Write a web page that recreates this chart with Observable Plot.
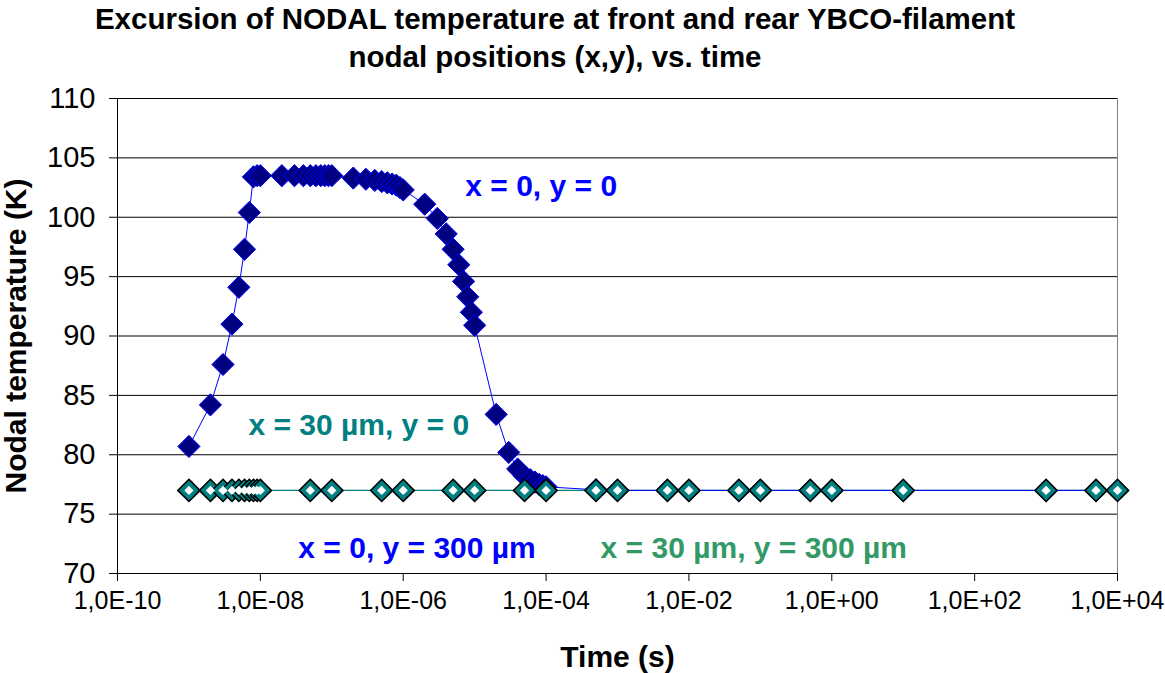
<!DOCTYPE html>
<html>
<head>
<meta charset="utf-8">
<script src="https://cdn.jsdelivr.net/npm/d3@7"></script>
<script src="https://cdn.jsdelivr.net/npm/@observablehq/plot@0.6"></script>
<style>
  html, body { margin: 0; padding: 0; background: #fff; }
  #wrap { width: 1165px; height: 673px; position: relative; font-family: "Liberation Sans", Arial, sans-serif; }
  #title { width: 1110px; height: 80px; text-align: center; font-weight: bold; font-size: 29.5px; line-height: 38px; color: #000; }
  svg { display: block; }
</style>
</head>
<body>
<div id="wrap">
  <div id="title">Excursion of NODAL temperature at front and rear YBCO-filament<br>nodal positions (x,y), vs. time</div>
  <div id="chart"></div>
</div>
<script>
// ---- data ----
const blueTime = [1e-9,2e-9,3e-9,4e-9,5e-9,6e-9,7e-9,8e-9,9e-9,1e-8,
  2e-8,3e-8,4e-8,5e-8,6e-8,7e-8,8e-8,9e-8,1e-7,
  2e-7,3e-7,4e-7,5e-7,6e-7,7e-7,8e-7,9e-7,1e-6,
  2e-6,3e-6,4e-6,5e-6,6e-6,7e-6,8e-6,9e-6,1e-5,
  2e-5,3e-5,4e-5,5e-5,6e-5,7e-5,8e-5,9e-5,1e-4,
  5e-4,1e-3,5e-3,1e-2,5e-2,1e-1,5e-1,1,10,1000,5000,10000];
const blueTemp = [80.7,84.2,87.6,91.0,94.1,97.3,100.4,103.4,103.5,103.5,
  103.5,103.5,103.5,103.5,103.5,103.5,103.5,103.5,103.5,
  103.3,103.2,103.1,103.0,102.9,102.8,102.7,102.5,102.3,
  101.1,99.9,98.6,97.3,96.0,94.6,93.3,92.0,90.9,
  83.4,80.2,78.8,78.2,77.9,77.7,77.5,77.4,77.3,
  77.05,77.0,77.0,77.0,77.0,77.0,77.0,77.0,77.0,77.0,77.0,77.0];
const tealTime = [1e-9,2e-9,3e-9,4e-9,5e-9,6e-9,7e-9,8e-9,9e-9,1e-8,
  5e-8,1e-7,5e-7,1e-6,5e-6,1e-5,5e-5,1e-4,5e-4,1e-3,5e-3,1e-2,5e-2,1e-1,5e-1,1,10,1000,5000,10000];
const tealTemp = [77,77,77,77,77,77,77,77,77,77,
  77,77,77,77,77,77,77,77,77,77,77,77,77,77,77,77,77,77,77,77];

const labelText = ["x = 0, y = 0", "x = 30 µm, y = 0", "x = 0, y = 300 µm", "x = 30 µm, y = 300 µm"];
const labelTime = [7.4e-6, 6.8e-9, 3.4e-8, 5.8e-4];
const labelTemp = [102.6, 82.45, 72.1, 72.1];
const labelColor = ["#0000FF", "#008080", "#0000FF", "#339966"];

const xTicks = [1e-10,1e-8,1e-6,1e-4,1e-2,1e0,1e2,1e4];
const xTickLabels = ["1,0E-10","1,0E-08","1,0E-06","1,0E-04","1,0E-02","1,0E+00","1,0E+02","1,0E+04"];
const yTicks = [70,75,80,85,90,95,100,105,110];
const xTitle = "Time (s)";
const yTitle = "Nodal temperature (K)";

// ---- tables ----
const blue = blueTime.map((t, i) => ({t, T: blueTemp[i]}));
const teal = tealTime.map((t, i) => ({t, T: tealTemp[i]}));
const labels = labelText.map((s, i) => ({s, t: labelTime[i], T: labelTemp[i], c: labelColor[i]}));

const font = '"Liberation Sans", Arial, sans-serif';

const chart = Plot.plot({
  width: 1165,
  height: 593,
  marginLeft: 117,
  marginRight: 48,
  marginTop: 18,
  marginBottom: 100,
  style: {fontFamily: font, background: "#fff", color: "#000"},
  x: {type: "log", domain: [1e-10, 1e4]},
  y: {domain: [70, 110]},
  marks: [
    Plot.frame({stroke: "#808080"}),
    Plot.ruleY(yTicks, {stroke: "#000", strokeWidth: 1}),
    Plot.ruleX([1e-10], {stroke: "#000"}),
    Plot.ruleY([70], {stroke: "#000"}),
    Plot.axisX({ticks: xTicks, tickFormat: (d) => xTickLabels[xTicks.indexOf(d)], tickSize: 8, tickPadding: 10, fontSize: 25, label: null, stroke: "#000"}),
    Plot.axisY({ticks: yTicks, tickSize: 8, tickPadding: 14, fontSize: 29, label: null, stroke: "#000"}),
    Plot.text([yTitle], {frameAnchor: "left", rotate: -90, dx: -101, textAnchor: "middle", lineAnchor: "middle", fontSize: 30, fontWeight: "bold", fill: "#000"}),
    Plot.text([xTitle], {frameAnchor: "bottom", dy: 84, textAnchor: "middle", lineAnchor: "middle", fontSize: 30, fontWeight: "bold", fill: "#000"}),
    Plot.line(teal, {x: "t", y: "T", stroke: "#008080", strokeWidth: 1.2}),
    Plot.line(blue, {x: "t", y: "T", stroke: "#0000FF", strokeWidth: 1}),
    Plot.dot(blue, {x: "t", y: "T", symbol: "diamond2", r: 10, fill: "#000080", stroke: "#0000FF", strokeWidth: 1}),
    Plot.dot(teal, {x: "t", y: "T", symbol: "diamond2", r: 10, fill: "#008080", stroke: "#000", strokeWidth: 1.6}),
    Plot.dot(teal, {x: "t", y: "T", symbol: "diamond2", r: 4.2, fill: "#fff", stroke: "none"}),
    Plot.text(labels, {x: "t", y: "T", text: "s", fill: "c", textAnchor: "start", lineAnchor: "middle", fontSize: 30, fontWeight: "bold"})
  ]
});
document.getElementById("chart").appendChild(chart);
</script>
</body>
</html>
